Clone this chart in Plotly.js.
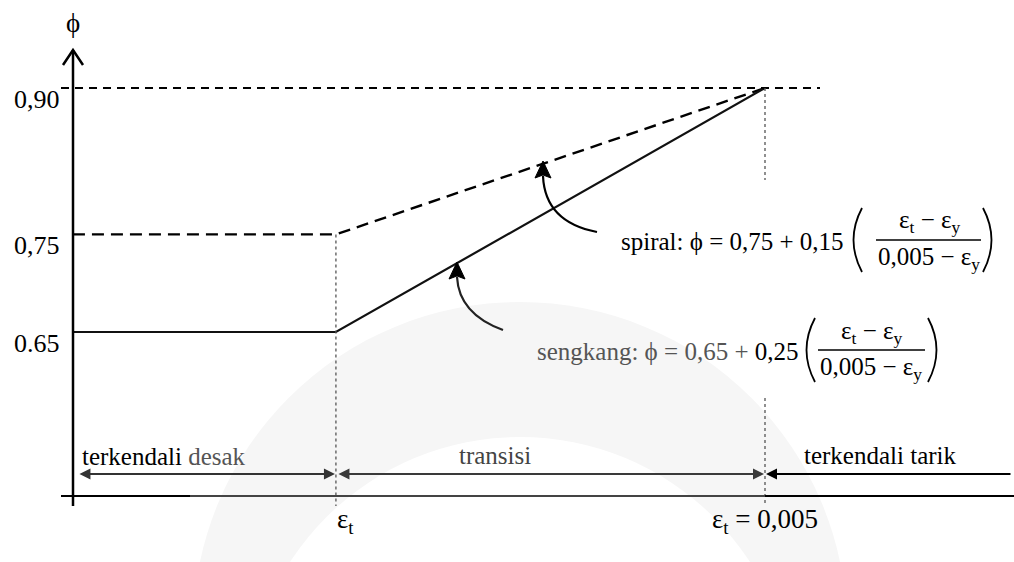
<!DOCTYPE html>
<html>
<head>
<meta charset="utf-8">
<script src="https://cdn.plot.ly/plotly-3.0.1.min.js"></script>
<style>html,body{margin:0;padding:0;background:#fff}#chart{width:1014px;height:562px}</style>
</head>
<body>
<div id="chart"></div>
<script>
// ---- data ----
const epsY = 0.0019;          // strain where transition starts (labelled ε_t)
const epsLim = 0.005;         // tension-controlled limit
const strainPts = [0, epsY, epsLim];
const phiSpiral = [0.75, 0.75, 0.90];
const phiTies = [0.65, 0.65, 0.90];
const phiMax = 0.90;
const phiTicks = [0.65, 0.75, 0.90];
const phiLabels = ['0.65', '0,75', '0,90'];
const strainTicks = [epsY, epsLim];
const strainLabels = ['ε<sub>t</sub>', 'ε<sub>t</sub> = 0,005'];
const regionNames = ['terkendali <span style="color:#555">desak</span>', '<span style="color:#444">transisi</span>', 'terkendali tarik'];

// ---- canvas mapping ----
const W = 1014, H = 562;
const XR = [-0.000527, 0.006799];
const YR = [0.41434, 0.99016];
const pxX = p => XR[0] + p / W * (XR[1] - XR[0]);
const pxY = p => YR[1] - p / H * (YR[1] - YR[0]);
const PX = p => p / W, PY = p => 1 - p / H;
const P = (x, y) => PX(x) + ',' + PY(y);

const serif = 'Liberation Serif';

const traces = [
  {x: strainPts, y: phiSpiral, mode: 'lines', line: {color: '#000', width: 2.4, dash: '12px,7px'}, hoverinfo: 'skip'},
  {x: strainPts, y: phiTies, mode: 'lines', line: {color: '#111', width: 2.2}, hoverinfo: 'skip'}
];

const paren = (x, yTop, yBot, dir) => ({type: 'path', xref: 'paper', yref: 'paper',
  path: 'M' + P(x, yTop) + ' Q' + P(x - dir * 17, (yTop + yBot) / 2) + ' ' + P(x, yBot), line: {color: '#000', width: 1.8}});

const shapes = [
  // watermark rings
  {type: 'circle', xref: 'paper', yref: 'paper', layer: 'below', x0: PX(520-327), x1: PX(520+327), y0: PY(629+327), y1: PY(629-327), fillcolor: '#f6f6f6', line: {width: 0}},
  {type: 'circle', xref: 'paper', yref: 'paper', layer: 'below', x0: PX(520-274), x1: PX(520+274), y0: PY(711+274), y1: PY(711-274), fillcolor: '#ffffff', line: {width: 0}},
  // phi = 0.90 guide
  {type: 'line', xref: 'paper', yref: 'y', x0: PX(61), x1: PX(820), y0: phiMax, y1: phiMax, line: {color: '#000', width: 2, dash: '8px,6px'}},
  // dotted verticals
  {type: 'line', xref: 'x', yref: 'y', x0: epsY, x1: epsY, y0: phiSpiral[1], y1: pxY(506), line: {color: '#555', width: 1.3, dash: 'dot'}},
  {type: 'line', xref: 'x', yref: 'y', x0: epsLim, x1: epsLim, y0: phiMax, y1: pxY(180), line: {color: '#555', width: 1.3, dash: 'dot'}},
  {type: 'line', xref: 'x', yref: 'y', x0: epsLim, x1: epsLim, y0: pxY(398), y1: pxY(506), line: {color: '#555', width: 1.3, dash: 'dot'}},
  // axes
  {type: 'line', xref: 'paper', yref: 'paper', x0: PX(73), x1: PX(73), y0: PY(506), y1: PY(50), line: {color: '#000', width: 2.5}},
  {type: 'path', xref: 'paper', yref: 'paper', path: 'M' + P(63, 65) + ' L' + P(73, 50) + ' L' + P(83, 65), line: {color: '#000', width: 2.5}},
  {type: 'line', xref: 'paper', yref: 'paper', x0: PX(61), x1: PX(190), y0: PY(496), y1: PY(496), line: {color: '#000', width: 2}},
  {type: 'line', xref: 'paper', yref: 'paper', x0: PX(190), x1: PX(765), y0: PY(496), y1: PY(496), line: {color: '#444', width: 2}},
  {type: 'line', xref: 'paper', yref: 'paper', x0: PX(765), x1: PX(1014), y0: PY(496), y1: PY(496), line: {color: '#000', width: 2}},
  // curved pointer arrows
  {type: 'path', xref: 'paper', yref: 'paper', path: 'M' + P(597, 232) + ' Q' + P(545, 222) + ' ' + P(543, 176), line: {color: '#000', width: 2.2}},
  {type: 'path', xref: 'paper', yref: 'paper', path: 'M' + P(543, 161) + ' L' + P(535, 178) + ' L' + P(543, 175) + ' L' + P(551, 178) + ' Z', fillcolor: '#000', line: {color: '#000', width: 1}},
  {type: 'path', xref: 'paper', yref: 'paper', path: 'M' + P(503, 330) + ' Q' + P(459, 314) + ' ' + P(457, 277), line: {color: '#222', width: 2.2}},
  {type: 'path', xref: 'paper', yref: 'paper', path: 'M' + P(457, 262) + ' L' + P(449, 279) + ' L' + P(457, 276) + ' L' + P(465, 279) + ' Z', fillcolor: '#000', line: {color: '#000', width: 1}},
  // fraction bars
  {type: 'line', xref: 'paper', yref: 'paper', x0: PX(876), x1: PX(981), y0: PY(240), y1: PY(240), line: {color: '#000', width: 1.5}},
  {type: 'line', xref: 'paper', yref: 'paper', x0: PX(818), x1: PX(925), y0: PY(350), y1: PY(350), line: {color: '#000', width: 1.5}},
  // big parentheses
  paren(862, 208, 272, 1), paren(983, 208, 272, -1),
  paren(815, 318, 382, 1), paren(928, 318, 382, -1)
];

const annotations = [];
const txt = (text, x, y, size, opts) => Object.assign({text: text, xref: 'paper', yref: 'paper', x: PX(x), y: PY(y), showarrow: false, font: {family: serif, size: size, color: '#000'}, xanchor: 'center', yanchor: 'middle'}, opts || {});

// y tick labels
phiTicks.forEach((v, i) => annotations.push({text: phiLabels[i], xref: 'paper', yref: 'y', x: PX(62), y: v, yshift: -11, xanchor: 'right', yanchor: 'middle', showarrow: false, font: {family: serif, size: 26, color: '#000'}}));
// x tick labels
annotations.push({text: strainLabels[0], xref: 'x', yref: 'paper', x: strainTicks[0], y: PY(521), xshift: 10, xanchor: 'center', yanchor: 'middle', showarrow: false, font: {family: serif, size: 27, color: '#000'}});
annotations.push({text: strainLabels[1], xref: 'x', yref: 'paper', x: strainTicks[1], y: PY(521), xanchor: 'center', yanchor: 'middle', showarrow: false, font: {family: serif, size: 27, color: '#000'}});
// phi axis title
annotations.push(txt('ϕ', 73, 23, 27));

// region arrows
const arrowY = PY(474);
annotations.push({text: '', xref: 'x', yref: 'paper', x: epsY, y: arrowY, axref: 'x', ax: 0, ayref: 'pixel', ay: 0, showarrow: true, arrowside: 'end+start', arrowhead: 2, startarrowhead: 2, arrowsize: 1.1, startarrowsize: 1.1, arrowwidth: 2, arrowcolor: '#333', standoff: 1, startstandoff: 5});
annotations.push({text: '', xref: 'x', yref: 'paper', x: epsLim, y: arrowY, axref: 'x', ax: epsY, ayref: 'pixel', ay: 0, showarrow: true, arrowside: 'end+start', arrowhead: 2, startarrowhead: 2, arrowsize: 1.1, startarrowsize: 1.1, arrowwidth: 2, arrowcolor: '#3a3a3a', standoff: 1, startstandoff: 1});
annotations.push({text: '', xref: 'x', yref: 'paper', x: epsLim, y: arrowY, axref: 'x', ax: pxX(1012), ayref: 'pixel', ay: 0, showarrow: true, arrowside: 'end', arrowhead: 2, arrowsize: 1.1, arrowwidth: 2, arrowcolor: '#000', standoff: 1});
annotations.push(txt(regionNames[0], 80, 456, 25, {xanchor: 'left'}));
annotations.push(txt(regionNames[1], 495, 455, 25));
annotations.push(txt(regionNames[2], 880, 455, 25));

// formulas
annotations.push(txt('spiral: ϕ = 0,75 + 0,15', 846, 241, 25, {xanchor: 'right'}));
annotations.push(txt('ε<sub>t</sub> − ε<sub>y</sub>', 929, 222, 25));
annotations.push(txt('0,005 − ε<sub>y</sub>', 929, 258, 25));

annotations.push(txt('<span style="color:#555">sengkang: ϕ = 0,65 + </span>0,25', 800, 351, 25, {xanchor: 'right'}));
annotations.push(txt('ε<sub>t</sub> − ε<sub>y</sub>', 871, 332, 25));
annotations.push(txt('0,005 − ε<sub>y</sub>', 871, 368, 25));

const layout = {
  width: W, height: H,
  margin: {l: 0, r: 0, t: 0, b: 0},
  paper_bgcolor: '#fff', plot_bgcolor: 'rgba(0,0,0,0)',
  showlegend: false,
  xaxis: {range: XR, visible: false, fixedrange: true},
  yaxis: {range: YR, visible: false, fixedrange: true},
  shapes: shapes,
  annotations: annotations
};

Plotly.newPlot('chart', traces, layout, {staticPlot: true, displayModeBar: false});
</script>
</body>
</html>
